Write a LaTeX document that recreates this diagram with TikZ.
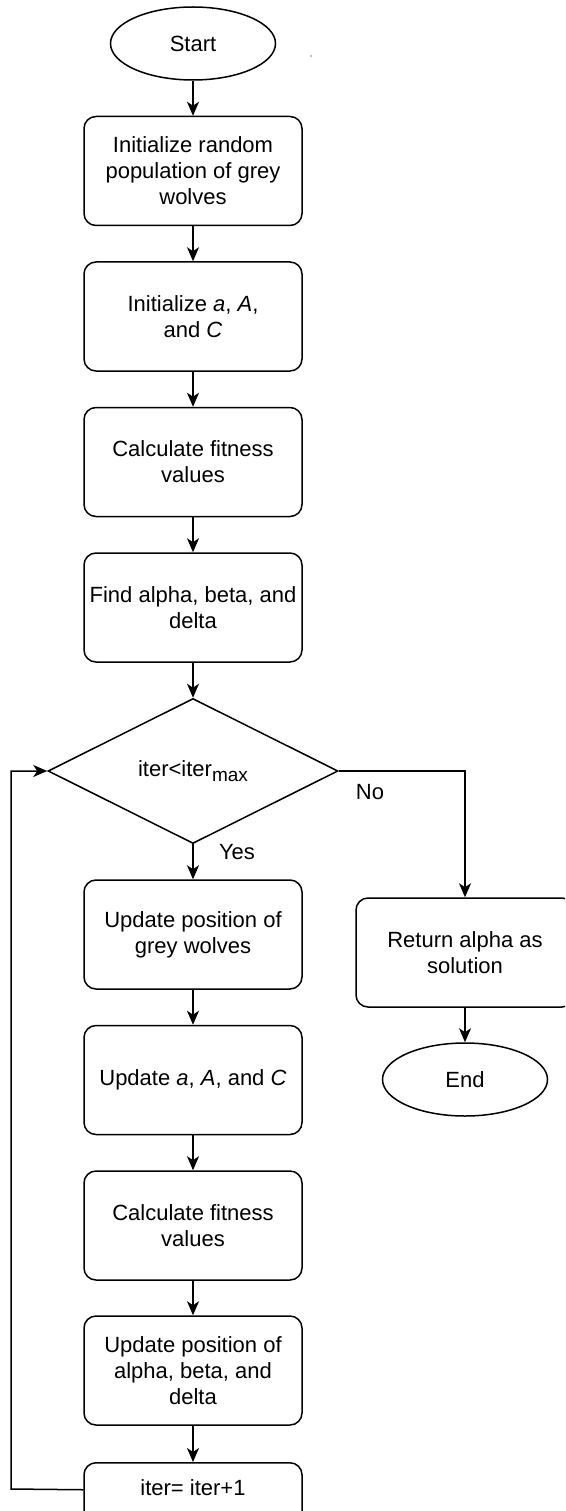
\documentclass[tikz,border=0pt]{standalone}
\usepackage{fontspec}
\setmainfont{Liberation Sans}
\usetikzlibrary{shapes.geometric,arrows.meta}
\begin{document}
\begin{tikzpicture}[x=1pt,y=-1pt,
  txt/.style={font=\fontsize{22}{26}\selectfont},
  proc/.style={txt, draw, line width=1.5pt, rounded corners=12pt, minimum width=218pt, minimum height=109pt, align=center, inner sep=0pt},
  term/.style={txt, draw, ellipse, line width=1.5pt, minimum width=165pt, minimum height=73pt, inner sep=0pt},
  dec/.style={txt, draw, diamond, line width=1.5pt, minimum width=290pt, minimum height=145pt, inner sep=0pt},
  conn/.style={line width=1.5pt, -{Stealth[length=14pt,width=12pt,inset=4pt]}}
]
\useasboundingbox (0,0) rectangle (565,1511);
\clip (0,0) rectangle (565,1511);
\fill[white] (0,0) rectangle (565,1511);

\node[term] (start) at (193,43.5) {Start};
\node[proc] (b1) at (193,171) {Initialize random\\population of grey\\wolves};
\node[proc] (b2) at (193,316.5) {Initialize \textit{a}, \textit{A},\\and \textit{C}};
\node[proc] (b3) at (193,462) {Calculate fitness\\values};
\node[proc] (b4) at (193,607.5) {Find alpha, beta, and\\delta};
\node[dec] (d) at (193,771) {iter<iter\raisebox{-5pt}{\fontsize{19}{20}\selectfont max}};
\node[proc] (u1) at (193,934.5) {Update position of\\grey wolves};
\node[proc] (u2) at (193,1080) {Update \textit{a}, \textit{A}, and \textit{C}};
\node[proc] (u3) at (193,1225.5) {Calculate fitness\\values};
\node[proc] (u4) at (193,1370.5) {Update position of\\alpha, beta, and\\delta};
\node[proc, anchor=north, minimum height=0pt, text height=33pt, text depth=30pt] (it) at (193,1462) {iter= iter+1};
\node[proc] (ret) at (465,952.5) {Return alpha as\\solution};
\node[term] (end) at (465,1079.5) {End};

\node[txt] (no) at (370,792) {No};
\node[txt] (yes) at (237,852) {Yes};

\coordinate (lp) at (11,1489);

\draw[conn] (start) -- (b1);
\draw[conn] (b1) -- (b2);
\draw[conn] (b2) -- (b3);
\draw[conn] (b3) -- (b4);
\draw[conn] (b4) -- (d);
\draw[conn] (d) -- (u1);
\draw[conn] (d.east) -| (ret.north);
\draw[conn] (ret) -- (end);
\draw[conn] (u1) -- (u2);
\draw[conn] (u2) -- (u3);
\draw[conn] (u3) -- (u4);
\draw[conn] (u4) -- (it);
\draw[conn] ([yshift=4.5pt]it.west) -- (lp) |- (d.west);

\fill[gray] (311,56) circle (0.9pt);
\end{tikzpicture}
\end{document}
